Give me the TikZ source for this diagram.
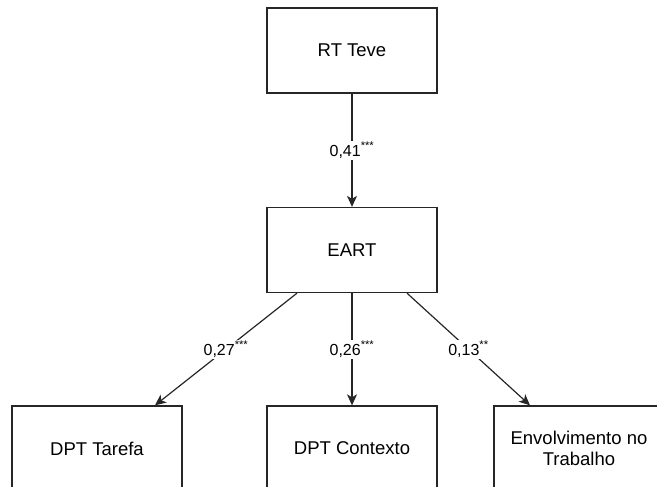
\documentclass[tikz,border=0pt]{standalone}
\usepackage{fontspec}
\setmainfont{Liberation Sans}
\usetikzlibrary{arrows.meta}
\begin{document}
\begin{tikzpicture}[x=1pt,y=-1pt,
  box/.style={draw=black!85, fill=white, line width=1.3pt, minimum width=170pt,
    minimum height=85pt, inner sep=0pt, align=center, font=\fontsize{18.5}{21.5}\selectfont},
  link/.style={draw=black!85, line width=1.2pt, -{Stealth[length=11pt,width=10pt,inset=3pt]}},
  coef/.style={fill=white, inner sep=1.5pt, font=\fontsize{16}{18}\selectfont}]
\useasboundingbox (0,0) rectangle (657,487);
% boxes
\node[box] (rt)   at (352,50.5)  {RT Teve};
\node[box] (eart) at (352,250)   {EART};
\node[box] (tar)  at (97,448.5)  {DPT Tarefa};
\node[box] (ctx)  at (352,448.5) {DPT Contexto};
\node[box] (env)  at (579,448.5) {Envolvimento no\\Trabalho};
% anchor points on box edges
\coordinate (eL) at ([xshift=-55pt]eart.south);
\coordinate (eR) at ([xshift=55pt]eart.south);
\coordinate (tT) at ([xshift=58pt]tar.north);
\coordinate (vT) at ([xshift=-49pt]env.north);
% paths
\draw[link] (rt.south) -- node[coef]{0,41\textsuperscript{***}} (eart.north);
\draw[link] (eL) -- node[coef]{0,27\textsuperscript{***}} (tT);
\draw[link] (eart.south) -- node[coef]{0,26\textsuperscript{***}} (ctx.north);
\draw[link] (eR) -- node[coef]{0,13\textsuperscript{**}} (vT);
\end{tikzpicture}
\end{document}
